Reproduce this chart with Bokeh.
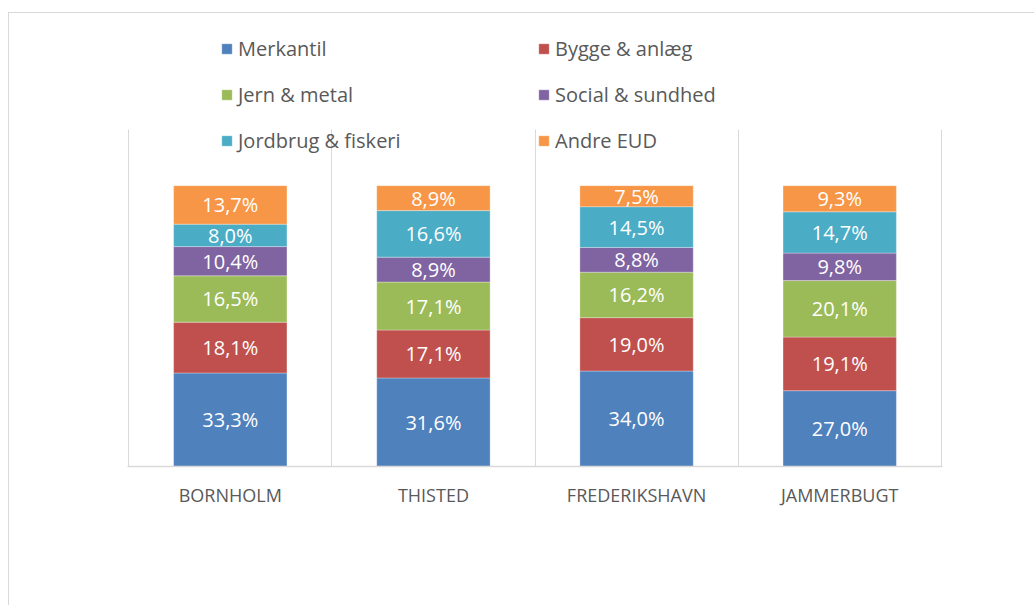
import numpy as np
from bokeh.plotting import figure
from bokeh.models import ColumnDataSource, FixedTicker, Legend, LegendItem, Range1d
from bokeh.core.properties import value
from bokeh.embed import file_html
from bokeh.resources import INLINE

# ---- data ----
municipalities = ["BORNHOLM", "THISTED", "FREDERIKSHAVN", "JAMMERBUGT"]
series_names = ["Merkantil", "Bygge & anlæg", "Jern & metal",
                "Social & sundhed", "Jordbrug & fiskeri", "Andre EUD"]
merkantil = [33.3, 31.6, 34.0, 27.0]
bygge = [18.1, 17.1, 19.0, 19.1]
jern = [16.5, 17.1, 16.2, 20.1]
social = [10.4, 8.9, 8.8, 9.8]
jordbrug = [8.0, 16.6, 14.5, 14.7]
andre = [13.7, 8.9, 7.5, 9.3]
colors = ["#4F81BD", "#C0504D", "#9BBB59", "#8064A2", "#4BACC6", "#F79646"]

series_values = [merkantil, bygge, jern, social, jordbrug, andre]
FONT = "Open Sans"

n = len(municipalities)
xs = np.arange(n) + 0.5
totals = np.sum(np.array(series_values), axis=0)

AXIS_MAX = 1.2          # plot-area top (120 %)
FRAME_TOP, PLOT_TOP, BASE = 20, 129, 466   # page pixel rows
y_end = AXIS_MAX * (BASE - FRAME_TOP) / (BASE - PLOT_TOP)
pad = 0.006

p = figure(width=1034, height=605, output_backend="svg", toolbar_location=None,
           x_range=Range1d(-pad, n + pad), y_range=Range1d(0, y_end),
           y_axis_location=None,
           min_border_left=127, min_border_right=92,
           min_border_top=FRAME_TOP, min_border_bottom=605 - BASE)
p.outline_line_color = None
p.border_fill_color = None
p.background_fill_color = "white"
p.styles = {"background": "linear-gradient(#d9d9d9, #d9d9d9) left 8px top 12px / 100% 1px no-repeat, "
                          "linear-gradient(#d9d9d9, #d9d9d9) left 8px top 12px / 1px 100% no-repeat, white"}

bottom = np.zeros(n)
renderers = []
for name, vals, col in zip(series_names, series_values, colors):
    frac = np.array(vals) / totals
    top = bottom + frac
    src = ColumnDataSource(dict(
        x=xs, top=top, bottom=bottom, mid=(top + bottom) / 2,
        label=[f"{v:.1f}".replace(".", ",") + "%" for v in vals]))
    r = p.vbar(x="x", top="top", bottom="bottom", width=0.558, source=src,
               fill_color=col, line_color="white", line_width=0.6, line_alpha=0.5)
    p.text(x="x", y="mid", text="label", source=src, text_align="center",
           text_baseline="middle", text_color="white",
           text_font=value(FONT), text_font_size="20px")
    renderers.append(r)
    bottom = top

# axes / grid
p.xaxis.ticker = FixedTicker(ticks=list(xs))
p.xaxis.major_label_overrides = {float(x): m for x, m in zip(xs, municipalities)}
p.xaxis.axis_line_color = "#d9d9d9"
p.xaxis.axis_line_width = 1.5
p.xaxis.major_tick_line_color = None
p.xaxis.minor_tick_line_color = None
p.xaxis.major_label_text_color = "#595959"
p.xaxis.major_label_text_font = FONT
p.xaxis.major_label_text_font_size = "18px"
p.xaxis.major_label_standoff = 10

p.xgrid.ticker = FixedTicker(ticks=list(range(n + 1)))
p.xgrid.cross_bounds = (0, AXIS_MAX)
p.xgrid.grid_line_color = "#d9d9d9"
p.xgrid.grid_line_width = 1
p.ygrid.grid_line_color = None

def make_legend(idx, vx):
    leg = Legend(items=[LegendItem(label=series_names[i], renderers=[renderers[i]]) for i in idx],
                 location=(vx, 312), orientation="vertical",
                 background_fill_alpha=0, border_line_color=None,
                 label_text_font=FONT, label_text_font_size="20px",
                 label_text_color="#595959", glyph_width=13, glyph_height=13,
                 label_standoff=5, spacing=19, padding=0, margin=0, label_height=20)
    p.add_layout(leg)

make_legend([0, 2, 4], 93)
make_legend([1, 3, 5], 410)

open("out.html", "w").write(file_html(p, INLINE))
